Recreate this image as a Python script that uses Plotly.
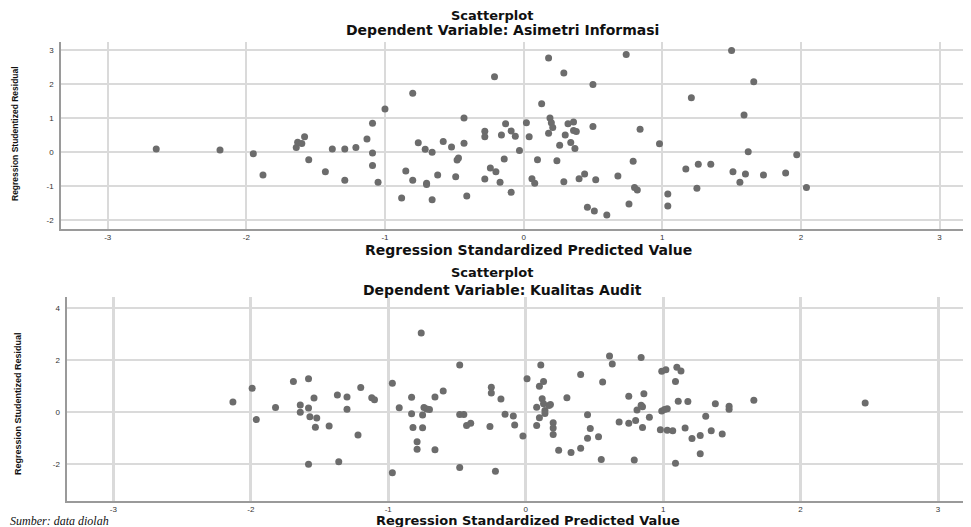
import plotly.graph_objects as go

W, H = 971, 527          # browser window
OFF = 8                  # default page body margin of the written html
FW, FH = W - OFF, H - OFF

# ---------------- data: top chart (Asimetri Informasi) ----------------
top_x = [-2.65, -2.19, -1.95, -1.88, -1.64, -1.63, -1.60, -1.58, -1.55, -1.43,
         -1.38, -1.29, -1.29, -1.21, -1.13, -1.09, -1.09, -1.09, -1.05, -1.00,
         -0.80, -0.85, -0.80, -0.76, -0.88, -0.71, -0.70, -0.70, -0.66, -0.66,
         -0.62, -0.58, -0.52, -0.49, -0.48, -0.47, -0.43, -0.43, -0.41, -0.28,
         -0.28, -0.28, -0.24, -0.21, -0.20, -0.17, -0.16, -0.14, -0.13, -0.09,
         -0.09, -0.06, -0.03, 0.02, 0.04, 0.06, 0.08, 0.10, 0.13, 0.18,
         0.19, 0.18, 0.20, 0.21, 0.24, 0.26, 0.29, 0.29, 0.30, 0.32,
         0.34, 0.36, 0.36, 0.37, 0.38, 0.40, 0.44, 0.46, 0.50, 0.50,
         0.51, 0.52, 0.60, 0.68, 0.74, 0.76, 0.79, 0.80, 0.82, 0.84,
         0.98, 1.04, 1.04, 1.17, 1.21, 1.25, 1.26, 1.35, 1.50, 1.51,
         1.56, 1.59, 1.60, 1.62, 1.66, 1.73, 1.89, 1.97, 2.04]
top_y = [0.09, 0.06, -0.05, -0.68, 0.13, 0.29, 0.25, 0.45, -0.23, -0.58,
         0.09, 0.09, -0.83, 0.13, 0.38, 0.85, -0.03, -0.40, -0.89, 1.27,
         1.73, -0.56, -0.83, 0.27, -1.36, 0.08, -0.92, -0.96, -0.01, -1.41,
         -0.68, 0.31, 0.15, -0.73, -0.24, -0.18, 0.26, 1.00, -1.30, 0.61,
         0.45, -0.80, -0.47, 2.22, -0.58, -0.89, 0.50, -0.21, 0.83, 0.62,
         -1.19, 0.46, 0.04, 0.86, 0.45, -0.79, -0.92, -0.23, 1.42, 2.77,
         1.00, 0.55, 0.86, 0.72, -0.26, 0.20, 2.33, -0.88, 0.50, 0.83,
         0.28, 0.88, 0.63, 0.10, 0.60, -0.79, -0.65, -1.63, 1.99, 0.75,
         -1.74, -0.82, -1.86, -0.71, 2.87, -1.53, -0.27, -1.05, -1.12, 0.67,
         0.24, -1.24, -1.59, -0.50, 1.60, -1.07, -0.36, -0.36, 2.99, -0.58,
         -0.89, 1.09, -0.65, 0.01, 2.07, -0.68, -0.62, -0.08, -1.05]

# ---------------- data: bottom chart (Kualitas Audit) ----------------
bot_x = [-2.13, -1.99, -1.96, -1.82, -1.69, -1.64, -1.64, -1.58, -1.58, -1.57,
         -1.54, -1.52, -1.53, -1.58, -1.43, -1.37, -1.36, -1.30, -1.30, -1.22,
         -1.20, -1.12, -1.10, -0.97, -0.97, -0.92, -0.83, -0.83, -0.82, -0.79,
         -0.79, -0.76, -0.74, -0.75, -0.75, -0.72, -0.70, -0.66, -0.66, -0.60,
         -0.48, -0.45, -0.48, -0.48, -0.43, -0.40, -0.26, -0.25, -0.25, -0.22,
         -0.18, -0.15, -0.09, -0.08, -0.02, 0.01, 0.08, 0.10, 0.08, 0.10,
         0.11, 0.13, 0.12, 0.14, 0.18, 0.13, 0.14, 0.17, 0.20, 0.20,
         0.20, 0.24, 0.30, 0.33, 0.40, 0.40, 0.45, 0.45, 0.47, 0.53,
         0.56, 0.55, 0.61, 0.63, 0.68, 0.75, 0.75, 0.80, 0.79, 0.81,
         0.84, 0.85, 0.86, 0.85, 0.84, 0.90, 0.99, 1.02, 0.99, 1.01,
         1.03, 0.98, 1.03, 1.07, 1.09, 1.10, 1.13, 1.11, 1.18, 1.09,
         1.16, 1.21, 1.27, 1.27, 1.31, 1.35, 1.38, 1.43, 1.48, 1.48,
         1.66, 2.47]
bot_y = [0.40, 0.93, -0.28, 0.19, 1.19, 0.28, 0.00, 0.17, 1.29, -0.17,
         0.55, -0.22, -0.57, -2.00, -0.53, 0.67, -1.90, 0.59, 0.12, -0.87,
         0.96, 0.56, 0.48, 1.12, -2.32, 0.18, 0.58, -0.05, -0.58, -1.13,
         -1.42, 3.05, 0.19, -0.10, -0.59, 0.13, 0.11, -1.44, 0.59, 0.82,
         -0.08, -0.08, 1.82, -2.12, -0.51, -0.42, -0.54, 0.97, 0.74, -2.27,
         0.51, -0.07, -0.14, -0.49, -0.91, 1.29, 0.20, 1.00, -0.51, -0.21,
         1.82, 1.19, 0.52, 0.07, 0.30, 0.33, -0.04, 0.26, -0.40, -0.60,
         -0.85, -1.46, 0.56, -1.55, 1.46, -1.38, -0.09, -1.00, -0.62, -0.94,
         1.17, -1.81, 2.17, 1.86, -0.37, 0.62, -0.42, -0.31, -1.83, 0.09,
         0.27, 0.22, 0.72, -0.58, 2.11, -0.19, 1.58, 1.64, 0.05, 0.11,
         0.14, -0.67, -0.69, -0.71, 1.19, 1.74, 1.59, 0.43, 0.42, -1.96,
         -0.60, -1.01, -0.89, -1.59, -0.15, -0.71, 0.33, -0.83, 0.23, 0.12,
         0.47, 0.36]

# ---------------- ticks ----------------
x_tick_vals = [-3, -2, -1, 0, 1, 2, 3]
x_tick_text = ["-3", "-2", "-1", "0", "1", "2", "3"]
top_y_tick_vals = [-2, -1, 0, 1, 2, 3]
top_y_tick_text = ["-2", "-1", "0", "1", "2", "3"]
bot_y_tick_vals = [-2, 0, 2, 4]
bot_y_tick_text = ["-2", "0", "2", "4"]

titles_main = ["Scatterplot", "Scatterplot"]
titles_sub = ["Dependent Variable: Asimetri Informasi", "Dependent Variable: Kualitas Audit"]
x_title = "Regression Standardized Predicted Value"
y_title = "Regression Studentized Residual"
source_note = "Sumber: data diolah"

# ---------------- styling ----------------
PT_COLOR = "#6c6c6c"
GRID = "#dadada"
AXLINE = "#9a9a9a"
TICKFONT = dict(family="Liberation Sans, Arial, sans-serif", size=8, color="#333333")
TITLEFONT = dict(family="DejaVu Sans, Arial, sans-serif", size=14, color="#111111")
MAINFONT = dict(family="DejaVu Sans, Arial, sans-serif", size=13, color="#111111")
XT2FONT = dict(family="DejaVu Sans, Arial, sans-serif", size=13, color="#111111")


def px_x(p):
    """screen pixel x -> paper fraction"""
    return (p - OFF) / FW


def px_y(p):
    """screen pixel y -> paper fraction"""
    return (FH - (p - OFF)) / FH


fig = go.Figure()
fig.add_trace(go.Scatter(x=top_x, y=top_y, mode="markers", xaxis="x", yaxis="y",
                         marker=dict(color=PT_COLOR, size=7, line=dict(width=0)),
                         showlegend=False, hoverinfo="skip"))
fig.add_trace(go.Scatter(x=bot_x, y=bot_y, mode="markers", xaxis="x2", yaxis="y2",
                         marker=dict(color=PT_COLOR, size=7, line=dict(width=0)),
                         showlegend=False, hoverinfo="skip"))

common_x = dict(tickmode="array", tickvals=x_tick_vals, ticktext=x_tick_text,
                showgrid=True, gridcolor=GRID, zeroline=False,
                showline=True, linecolor=AXLINE, linewidth=1.5,
                ticks="", tickfont=TICKFONT, fixedrange=True, automargin=False)
common_y = dict(tickmode="array", showgrid=True, gridcolor=GRID, zeroline=False,
                showline=True, linecolor=AXLINE, linewidth=1.5,
                ticks="", tickfont=TICKFONT, fixedrange=True, ticklabelstandoff=4,
                automargin=False)

fig.update_layout(
    width=FW, height=FH, margin=dict(l=0, r=0, t=0, b=0, pad=0, autoexpand=False),
    paper_bgcolor="white", plot_bgcolor="white",
    xaxis=dict(common_x, domain=[px_x(61), 1.0], range=[-3.337, 3.227],
               anchor="y", gridwidth=2),
    yaxis=dict(common_y, domain=[px_y(229), px_y(41.7)], range=[-2.27, 3.25],
               tickvals=top_y_tick_vals, ticktext=top_y_tick_text, anchor="x", gridwidth=2),
    xaxis2=dict(common_x, domain=[px_x(67.3), 1.0], range=[-3.335, 3.24],
                anchor="y2", gridwidth=2.5),
    yaxis2=dict(common_y, domain=[px_y(500.7), px_y(296.7)], range=[-3.40, 4.45],
                tickvals=bot_y_tick_vals, ticktext=bot_y_tick_text, anchor="x2", gridwidth=2),
)

ann = []
def add_text(text, x, y, font, angle=0, xanchor="center"):
    ann.append(dict(text=text, x=px_x(x), y=px_y(y), xref="paper", yref="paper",
                    showarrow=False, font=font, textangle=angle,
                    xanchor=xanchor, yanchor="middle"))

bold = lambda s: "<b>" + s + "</b>"
YT1 = dict(family="Liberation Sans, Arial, sans-serif", size=8.5, color="#111111")
YT2 = dict(family="Liberation Sans, Arial, sans-serif", size=9, color="#111111")
# top chart texts
add_text(bold(titles_main[0]), 492, 15, MAINFONT)
add_text(bold(titles_sub[0]), 502, 30, TITLEFONT)
add_text(bold(x_title), 528, 250, TITLEFONT)
add_text(bold(y_title), 15, 134, YT1, angle=-90)
# bottom chart texts
add_text(bold(titles_main[1]), 492, 272, MAINFONT)
add_text(bold(titles_sub[1]), 502, 290, TITLEFONT)
add_text(bold(x_title), 528, 520.5, XT2FONT)
add_text(bold(y_title), 18, 404, YT2, angle=-90)
# source note
add_text("<i>" + source_note + "</i>", 8, 521,
         dict(family="Liberation Serif, Times New Roman, serif", size=12, color="#111111"),
         xanchor="left")
fig.update_layout(annotations=ann)

fig.write_html("out.html")
